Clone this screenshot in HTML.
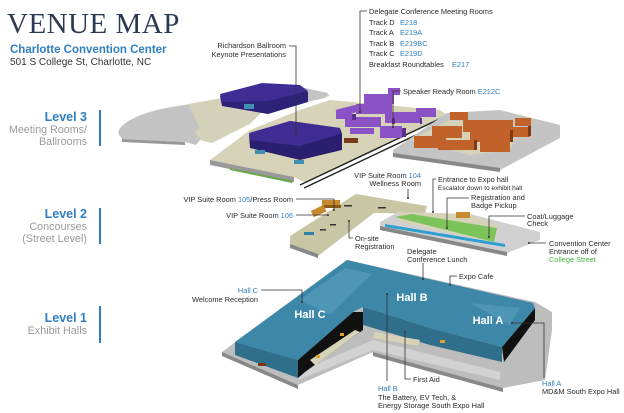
<!DOCTYPE html>
<html><head><meta charset="utf-8"><style>
html,body{margin:0;padding:0;background:#fff;}
svg{display:block;}
text{font-family:"Liberation Sans",sans-serif;}
.t{font-size:7.4px;fill:#2a2a2a;}
.b{fill:#2f7fc1;}
.ln{stroke:#333;stroke-width:0.8;fill:none;}
.dot{fill:#333;}
</style></head><body>
<svg width="624" height="413" viewBox="0 0 624 413" xmlns="http://www.w3.org/2000/svg">
<text x="7" y="33" style="font-family:'Liberation Serif',serif;font-size:29px;fill:#2b3a52;letter-spacing:0.5px">VENUE MAP</text>
<text x="10" y="53" style="font-size:11.5px;font-weight:bold;fill:#2f7fc1">Charlotte Convention Center</text>
<text x="10" y="65" style="font-size:10px;fill:#333">501 S College St, Charlotte, NC</text>

<g style="font-size:10.8px;" text-anchor="end">
<text x="87" y="121" style="font-weight:bold;fill:#2f7fc1;font-size:12.5px">Level 3</text>
<text x="87" y="133" fill="#999" textLength="78" lengthAdjust="spacingAndGlyphs">Meeting Rooms/</text>
<text x="87" y="145" fill="#999">Ballrooms</text>
<text x="87" y="218" style="font-weight:bold;fill:#2f7fc1;font-size:12.5px">Level 2</text>
<text x="87" y="230" fill="#999">Concourses</text>
<text x="87" y="242" fill="#999">(Street Level)</text>
<text x="87" y="322" style="font-weight:bold;fill:#2f7fc1;font-size:12.5px">Level 1</text>
<text x="87" y="334" fill="#999">Exhibit Halls</text>
</g>
<rect x="99" y="110" width="2" height="36" fill="#2f7fc1"/>
<rect x="99" y="208" width="2" height="36" fill="#2f7fc1"/>
<rect x="99" y="306" width="2" height="37" fill="#2f7fc1"/>

<!-- LEVEL 3 -->
<path d="M120,136 C112,128 135,112 178,106 L222,99 L262,112 L250,123 L212,143 L200,140 L196,145 L185,142 L122,139 Z" fill="#c4c4c4"/>
<path d="M122,139 L185,142 L185,145 L122,142 Z" fill="#999"/>
<path d="M188,104 L222,98 L305,88 L327,93 L330,96 L262,112 L250,124 L212,143 L200,140 L195,132 L200,128 Z" fill="#d6d3b8" opacity="0.9"/>
<path d="M305,88 L328,93 L325,98 L298,104 Z" fill="#c4c4c4"/>
<path d="M210,160 L250,130 L300,110 L330,100 L440,110 L448,116 L306,183 L294,177 Z" fill="#d6d3b8"/>
<path d="M210,160 L294,177 L294,182 L210,165 Z" fill="#999"/>
<path d="M230,168 L293,181 L292,183 L230,170 Z" fill="#6aa84f"/>
<path d="M300,185 L450,114 M304,188 L452,118" stroke="#222" stroke-width="1.4"/>
<path d="M220,96 L262,84 L300,86 L308,92 L308,102 L268,114 L222,106 Z" fill="#2e2278"/>
<path d="M220,94 L262,83 L300,85 L308,91 L268,101 L222,102 Z" fill="#3f2d94"/>
<rect x="244" y="104" width="10" height="5" fill="#3f8fb0"/>
<path d="M249,135 L290,121 L340,128 L342,134 L342,150 L300,160 L250,148 Z" fill="#2a1f6e"/>
<path d="M249,133 L290,121 L340,128 L340,134 L300,146 L250,140 Z" fill="#3f2d94"/>
<rect x="255" y="150" width="10" height="4" fill="#3f8fb0"/><rect x="294" y="160" width="10" height="4" fill="#3f8fb0"/>
<rect x="344" y="138" width="14" height="5" fill="#7a3a18"/>
<g fill="#8a52c4">
<path d="M335,110 L355,105 L370,108 L350,114 Z"/><rect x="336" y="110" width="16" height="9"/>
<rect x="356" y="104" width="36" height="10"/><rect x="364" y="94" width="30" height="10"/>
<rect x="385" y="112" width="36" height="11"/><rect x="345" y="117" width="36" height="10"/>
<rect x="350" y="128" width="24" height="6"/><rect x="380" y="126" width="22" height="12"/>
<rect x="416" y="108" width="20" height="9"/><rect x="388" y="88" width="12" height="7"/>
</g>
<g fill="#5b2f8c"><rect x="352" y="114" width="4" height="6"/><rect x="392" y="118" width="3" height="6"/><rect x="402" y="128" width="4" height="9"/><rect x="420" y="118" width="2" height="6"/></g>
<path d="M393,150 L447,113 L500,110 L560,125 L560,138 L500,170 L393,155 Z" fill="#c4c4c4"/>
<path d="M393,153 L500,168 L500,172 L393,157 Z" fill="#888"/>
<path d="M410,140 L450,120 L520,128 L510,150 L470,155 Z" fill="#d6d3b8"/>
<g fill="#c0622a">
<rect x="450" y="112" width="18" height="8"/><rect x="463" y="120" width="50" height="12"/>
<rect x="432" y="126" width="30" height="12"/><rect x="470" y="130" width="40" height="12"/>
<rect x="414" y="136" width="32" height="12"/><rect x="438" y="140" width="38" height="10"/>
<rect x="480" y="140" width="30" height="12"/><rect x="500" y="127" width="30" height="10"/><rect x="515" y="118" width="16" height="8"/>
</g>
<g fill="#7c3a14"><rect x="510" y="130" width="3" height="12"/><rect x="528" y="126" width="3" height="10"/><rect x="474" y="140" width="3" height="10"/></g>

<!-- LEVEL 2 -->
<path d="M290,236 L356,194 L427,206 L425,214 L374,213 L318,256 L290,246 Z" fill="#c9c6a6"/>
<path d="M290,244 L318,254 L318,258 L290,248 Z" fill="#888"/>
<path d="M380,222 L398,212 L470,214 L540,232 L540,240 L507,253 L380,227 Z" fill="#d0d0d0"/>
<path d="M380,226 L507,252 L507,256 L380,230 Z" fill="#888"/>
<path d="M400,212 L470,214 L497,226 L493,242 L400,222 Z" fill="#d6d3b8"/>
<path d="M395,217 L412,214 L497,228 L494,242 Z" fill="#7cc35a"/>
<path d="M385,224 L505,244 L505,247 L385,227 Z" fill="#2f9fd0"/>
<rect x="322" y="200" width="18" height="7" fill="#c88a2e"/><rect x="323" y="205" width="18" height="3" fill="#8a5a18"/>
<rect x="312" y="208" width="14" height="7" fill="#c88a2e" transform="rotate(-25 318 212)"/>
<rect x="456" y="212" width="14" height="6" fill="#c88a2e"/>
<rect x="304" y="232" width="10" height="3" fill="#2f7fa8"/>
<g fill="#333"><rect x="344" y="205" width="8" height="1.5"/><rect x="378" y="207" width="8" height="1.5"/><rect x="330" y="224" width="6" height="1.5"/><rect x="320" y="229" width="6" height="1.5"/></g>

<!-- LEVEL 1 -->
<path d="M222,352 L298,385 L373,352 L503,388 L545,380 L552,330 L552,312 L535,302 L347,260 Z" fill="#bdbdbd"/>
<path d="M222,352 L298,385 L298,389 L222,356 Z" fill="#888"/>
<path d="M373,352 L503,388 L503,392 L373,356 Z" fill="#888"/>
<path d="M298,372 L373,340 L500,372 L500,380 L373,350 L298,380 Z" fill="#d2d2d2"/>
<path d="M235,342 L298,360 L298,378 L235,355 Z" fill="#2f6f8c"/>
<path d="M298,360 L353,312 L363,312 L363,330 L305,372 L298,378 Z" fill="#111"/>
<path d="M363,307 L380,312 L430,328 L502,347 L502,362 L430,345 L380,330 L363,325 Z" fill="#2f6f8c"/>
<path d="M502,347 L535,308 L535,320 L504,362 Z" fill="#111"/>
<path d="M310,360 L355,330 L360,332 L315,365 Z" fill="#d6d3b8"/>
<path d="M375,332 L420,340 L418,346 L373,338 Z" fill="#d6d3b8"/>
<path d="M235,342 L347,260 L533,303 L535,308 L502,347 L430,328 L380,312 L363,307 L353,312 L298,360 Z" fill="#3d87a8"/>
<path d="M300,300 L345,268 L372,274 L330,315 Z" fill="#5aa0bf" opacity="0.6"/>
<path d="M470,303 L520,308 L510,325 Z" fill="#5aa0bf" opacity="0.6"/>
<g fill="#e0a030"><rect x="340" y="333" width="4" height="3"/><rect x="316" y="355" width="4" height="3"/><rect x="440" y="340" width="5" height="3"/></g>
<rect x="258" y="363" width="8" height="3" fill="#7a3a18"/>
<text x="310" y="318" text-anchor="middle" style="font-size:11px;font-weight:bold;fill:#fff">Hall C</text>
<text x="412" y="301" text-anchor="middle" style="font-size:11px;font-weight:bold;fill:#fff">Hall B</text>
<text x="488" y="324" text-anchor="middle" style="font-size:11px;font-weight:bold;fill:#fff">Hall A</text>

<g class="t">
<text x="286" y="48" text-anchor="end">Richardson Ballroom</text>
<text x="286" y="57" text-anchor="end">Keynote Presentations</text>
<text x="369" y="14">Delegate Conference Meeting Rooms</text>
<text x="369" y="25">Track D</text><text x="400" y="25" class="b">E218</text>
<text x="369" y="35">Track A</text><text x="400" y="35" class="b">E219A</text>
<text x="369" y="46">Track B</text><text x="400" y="46" class="b">E219BC</text>
<text x="369" y="56">Track C</text><text x="400" y="56" class="b">E219D</text>
<text x="369" y="67">Breakfast Roundtables</text><text x="452" y="67" class="b">E217</text>
<text x="403" y="94">Speaker Ready Room <tspan class="b">E212C</tspan></text>
<text x="421" y="178" text-anchor="end">VIP Suite Room <tspan class="b">104</tspan></text>
<text x="421" y="186" text-anchor="end">Wellness Room</text>
<text x="438" y="182">Entrance to Expo hall</text>
<text x="438" y="190" style="font-size:6.5px">Escalator down to exhibit hall</text>
<text x="471" y="200">Registration and</text>
<text x="471" y="208">Badge Pickup</text>
<text x="527" y="219">Coat/Luggage</text>
<text x="527" y="226">Check</text>
<text x="549" y="246">Convention Center</text>
<text x="549" y="254">Entrance off of</text>
<text x="549" y="262" style="fill:#4cb848">College Street</text>
<text x="293" y="202" text-anchor="end">VIP Suite Room <tspan class="b">105</tspan>/Press Room</text>
<text x="293" y="218" text-anchor="end">VIP Suite Room <tspan class="b">106</tspan></text>
<text x="355" y="241">On-site</text>
<text x="355" y="249">Registration</text>
<text x="407" y="254">Delegate</text>
<text x="407" y="262">Conference Lunch</text>
<text x="459" y="279">Expo Cafe</text>
<text x="258" y="293" text-anchor="end" class="b">Hall C</text>
<text x="258" y="302" text-anchor="end">Welcome Reception</text>
<text x="413" y="382">First Aid</text>
<text x="378" y="391" class="b">Hall B</text>
<text x="378" y="400">The Battery, EV Tech, &amp;</text>
<text x="378" y="408">Energy Storage South Expo Hall</text>
<text x="542" y="386" class="b">Hall A</text>
<text x="542" y="394">MD&amp;M South Expo Hall</text>
</g>
<g class="ln">
<path d="M289,46 H296 V134"/>
<path d="M367,11 H360 V112"/>
<path d="M401,91 H393 V127"/>
<path d="M408,189 V198"/>
<path d="M436,179 H433 V212"/>
<path d="M469,198 H447 V228"/>
<path d="M525,216 H489 V237"/>
<path d="M529,243 H546"/>
<path d="M296,199 H334 V210"/>
<path d="M296,215 H328"/>
<path d="M349,221 V238 H353"/>
<path d="M423,263 V279"/>
<path d="M457,276 H450 V285"/>
<path d="M261,290 H302 V302"/>
<path d="M387,294 V381"/>
<path d="M411,379 H405 V332"/>
<path d="M512,323 H544 V378"/>
</g>
<g class="dot">
<circle cx="296" cy="134" r="1"/><circle cx="360" cy="112" r="1"/><circle cx="393" cy="127" r="1"/>
<circle cx="408" cy="198" r="1"/><circle cx="433" cy="212" r="1"/><circle cx="447" cy="228" r="1"/>
<circle cx="489" cy="237" r="1"/><circle cx="529" cy="243" r="1"/><circle cx="334" cy="210" r="1"/>
<circle cx="328" cy="215" r="1"/><circle cx="349" cy="221" r="1"/><circle cx="423" cy="279" r="1"/>
<circle cx="450" cy="285" r="1"/><circle cx="302" cy="302" r="1"/><circle cx="387" cy="294" r="1"/>
<circle cx="405" cy="332" r="1"/><circle cx="512" cy="323" r="1"/>
</g>
</svg>
</body></html>
